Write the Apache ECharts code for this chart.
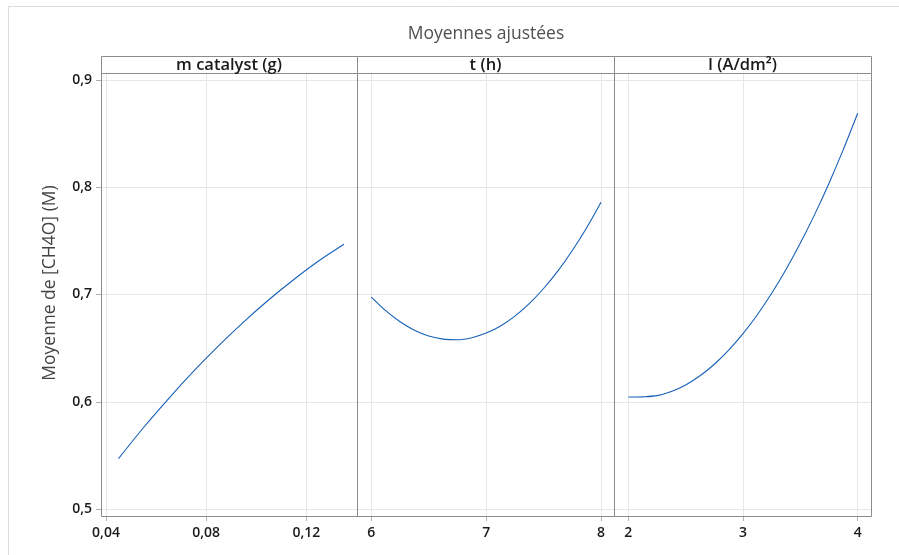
<!DOCTYPE html>
<html>
<head>
<meta charset="utf-8">
<script src="https://cdn.jsdelivr.net/npm/echarts@6/dist/echarts.min.js"></script>
<style>
  html, body { margin: 0; padding: 0; background: #ffffff; }
  #chart { width: 899px; height: 555px; }
</style>
</head>
<body>
<div id="chart"></div>
<script>
// Fitted means of [CH4O] for each factor
const chartTitle = 'Moyennes ajustées';
const yAxisTitle = 'Moyenne de [CH4O] (M)';
const panelTitles = ['m catalyst (g)', 't (h)', 'I (A/dm²)'];

const mCatalyst = [0.045, 0.055, 0.065, 0.075, 0.085, 0.095, 0.105, 0.115, 0.125, 0.135];
const mCatalystMean = [0.547, 0.576, 0.603, 0.6285, 0.6523, 0.6745, 0.6951, 0.7140, 0.7314, 0.7468];

const tHours = [6, 6.125, 6.25, 6.375, 6.5, 6.625, 6.75, 6.875, 7, 7.125, 7.25, 7.375, 7.5, 7.625, 7.75, 7.875, 8];
const tMean = [0.6976, 0.6849, 0.6746, 0.6667, 0.6613, 0.6584, 0.6578, 0.6597, 0.664,
               0.6707, 0.6799, 0.6915, 0.7056, 0.7220, 0.7410, 0.7623, 0.7861];

const currentDensity = [2, 2.125, 2.25, 2.375, 2.5, 2.625, 2.75, 2.875, 3, 3.125, 3.25, 3.375, 3.5, 3.625, 3.75, 3.875, 4];
const currentMean = [0.6044, 0.6046, 0.6057, 0.6096, 0.6157, 0.6242, 0.6350, 0.6481, 0.6635,
                     0.6811, 0.7011, 0.7233, 0.7479, 0.7747, 0.8038, 0.8353, 0.8690];

const xTicksCatalyst = [0.04, 0.08, 0.12];
const xTicksHours = [6, 7, 8];
const xTicksCurrent = [2, 3, 4];
const yTicks = [0.5, 0.6, 0.7, 0.8, 0.9];

const xRanges = [[0.038, 0.1402], [5.875, 8.113], [1.875, 4.116]];
const yRange = [0.4935, 0.9065];

const seriesData = [
  [mCatalyst, mCatalystMean],
  [tHours, tMean],
  [currentDensity, currentMean]
];
const xTickSets = [xTicksCatalyst, xTicksHours, xTicksCurrent];

const FONT = '"Open Sans", "Noto Sans", sans-serif';
const BORDER = '#8c8c8c';
const GRIDLINE = '#e6e6e6';
const LINE = '#1660b8';

const fmt = v => String(+v.toFixed(4)).replace('.', ',');

const panelLeft = [101, 357, 614];
const panelWidth = [256, 257, 257];
const plotTop = 73, plotHeight = 443, headerTop = 56, headerHeight = 17;

const grids = [], xAxes = [], yAxes = [], series = [], graphics = [];

// light frame around the figure
graphics.push({
  type: 'rect', silent: true, z: 0,
  shape: { x: 8.5, y: 6.5, width: 1000, height: 700 },
  style: { fill: null, stroke: '#dcdcdc', lineWidth: 1 }
});

for (let i = 0; i < 3; i++) {
  grids.push({
    left: panelLeft[i], top: plotTop, width: panelWidth[i], height: plotHeight,
    show: false
  });
  xAxes.push({
    type: 'value', gridIndex: i, min: xRanges[i][0], max: xRanges[i][1],
    axisLine: { show: false },
    axisTick: { show: true, inside: false, length: 5, customValues: xTickSets[i], lineStyle: { color: '#b0b0b0' } },
    axisLabel: { show: true, customValues: xTickSets[i], formatter: fmt, margin: 10,
      fontFamily: FONT, fontSize: 14, fontWeight: 600, color: '#1a1a1a' },
    splitLine: { show: false }
  });
  yAxes.push({
    type: 'value', gridIndex: i, min: yRange[0], max: yRange[1],
    axisLine: { show: false },
    axisTick: { show: i === 0, inside: false, length: 5, customValues: yTicks, lineStyle: { color: '#b0b0b0' } },
    axisLabel: { show: i === 0, customValues: yTicks, formatter: fmt, margin: 9,
      fontFamily: FONT, fontSize: 14, fontWeight: 600, color: '#1a1a1a' },
    splitLine: { show: false }
  });

  // reference grid lines at tick positions
  const gridLines = [];
  xTickSets[i].forEach(v => gridLines.push({ xAxis: v }));
  yTicks.forEach(v => gridLines.push({ yAxis: v }));

  series.push({
    type: 'line', xAxisIndex: i, yAxisIndex: i,
    data: seriesData[i][0].map((x, k) => [x, seriesData[i][1][k]]),
    smooth: 0.3, showSymbol: false, symbol: 'none',
    lineStyle: { color: LINE, width: 1.1 },
    z: 5,
    markLine: {
      silent: true, symbol: 'none', animation: false, z: 1,
      label: { show: false },
      lineStyle: { color: GRIDLINE, type: 'solid', width: 1 },
      emphasis: { disabled: true },
      data: gridLines
    }
  });

  // plot frame
  graphics.push({
    type: 'rect', silent: true, z: 9,
    shape: { x: panelLeft[i] + 0.5, y: plotTop + 0.5, width: panelWidth[i], height: plotHeight },
    style: { fill: null, stroke: BORDER, lineWidth: 1 }
  });
  // panel header strip
  graphics.push({
    type: 'rect', silent: true, z: 10,
    shape: { x: panelLeft[i] + 0.5, y: headerTop + 0.5, width: panelWidth[i], height: headerHeight },
    style: { fill: '#ffffff', stroke: BORDER, lineWidth: 1 }
  });
  graphics.push({
    type: 'text', silent: true, z: 11,
    x: panelLeft[i] + panelWidth[i] / 2, y: headerTop + headerHeight / 2 + 1,
    style: { text: panelTitles[i], fill: '#1a1a1a', font: '600 16.5px ' + FONT,
      textAlign: 'center', textVerticalAlign: 'middle' }
  });
}

graphics.push({
  type: 'text', silent: true, z: 11,
  x: 50, y: 283, rotation: Math.PI / 2,
  style: { text: yAxisTitle, fill: '#444444', font: '17.5px ' + FONT,
    textAlign: 'center', textVerticalAlign: 'middle' }
});

const chart = echarts.init(document.getElementById('chart'), null, { renderer: 'canvas' });
chart.setOption({
  animation: false,
  backgroundColor: '#ffffff',
  title: {
    text: chartTitle, left: 481, top: 20, textAlign: 'center',
    textStyle: { fontFamily: FONT, fontSize: 17.5, fontWeight: 'normal', color: '#505050' }
  },
  grid: grids,
  xAxis: xAxes,
  yAxis: yAxes,
  series: series,
  graphic: graphics
});
</script>
</body>
</html>
